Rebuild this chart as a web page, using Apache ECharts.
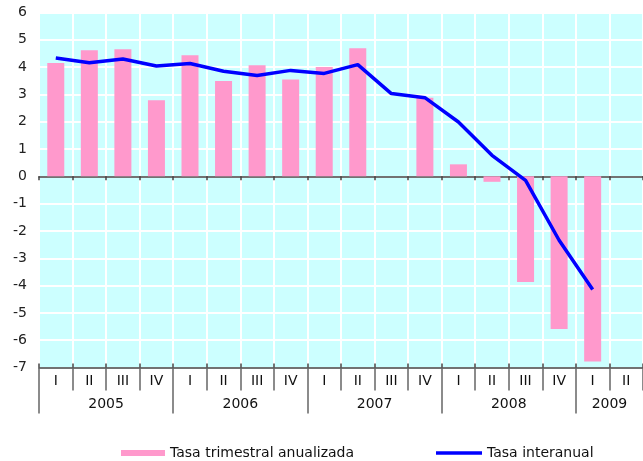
<!DOCTYPE html>
<html>
<head>
<meta charset="utf-8">
<script src="https://cdn.jsdelivr.net/npm/echarts@6/dist/echarts.min.js"></script>
<style>
html,body{margin:0;padding:0;background:#fff;}
#chart{width:643px;height:461px;}
</style>
</head>
<body>
<div id="chart"></div>
<script>
var quarters = ['I','II','III','IV','I','II','III','IV','I','II','III','IV','I','II','III','IV','I','II'];
var years = ['2005','2006','2007','2008','2009'];
var yearStarts = [0, 4, 8, 12, 16];
var yearCenters = [2, 6, 10, 14, 17];
var trimestral = [4.15, 4.62, 4.65, 2.79, 4.43, 3.49, 4.07, 3.55, 4.0, 4.69, null, 2.88, 0.44, -0.2, -3.87, -5.59, -6.78, null];
var interanual = [4.33, 4.16, 4.3, 4.04, 4.13, 3.85, 3.69, 3.88, 3.77, 4.09, 3.03, 2.88, 1.99, 0.77, -0.15, -2.34, -4.14, null];
var yTicks = {min: -7, max: 6, interval: 1};

var FONT = 'DejaVu Sans';
var chart = echarts.init(document.getElementById('chart'), null, {renderer: 'canvas'});
chart.setOption({
  animation: false,
  backgroundColor: '#ffffff',
  textStyle: {fontFamily: FONT},
  grid: {left: 39, top: 12.5, right: -7, bottom: 93.5, show: true, backgroundColor: '#ccffff', borderWidth: 0},
  legend: [
    {left: 116, top: 441, itemWidth: 44, itemHeight: 6, itemGap: 5,
     textStyle: {fontFamily: FONT, fontSize: 14, color: '#111'},
     data: [{name: 'Tasa trimestral anualizada', icon: 'rect'}]},
    {left: 431, top: 441, itemWidth: 46, itemHeight: 3.5,
     textStyle: {fontFamily: FONT, fontSize: 14, color: '#111'},
     itemStyle: {color: '#0000ff'},
     data: [{name: 'Tasa interanual', icon: 'rect'}]}
  ],
  xAxis: [
    {type: 'category', data: quarters, position: 'bottom',
     axisLine: {show: true, onZero: true, lineStyle: {color: '#444', width: 1.5}},
     axisTick: {show: true, interval: 0, length: 4, lineStyle: {color: '#444', width: 1.5}},
     axisLabel: {show: false},
     splitLine: {show: true, interval: 0, lineStyle: {color: '#ffffff', width: 2}}},
    {type: 'category', data: quarters, position: 'bottom',
     axisLine: {show: false, onZero: false},
     axisTick: {show: true, interval: 0, length: 23, lineStyle: {color: '#666', width: 1.5}},
     axisLabel: {show: true, interval: 0, margin: 7, fontFamily: FONT, fontSize: 14, color: '#111'},
     splitLine: {show: false}},
    {type: 'value', min: 0, max: 18, position: 'bottom',
     axisLine: {show: false, onZero: false},
     axisTick: {show: true, customValues: yearStarts, length: 46, lineStyle: {color: '#666', width: 1.5}},
     axisLabel: {show: true, customValues: yearCenters, margin: 30, fontFamily: FONT, fontSize: 14, color: '#111',
       formatter: function (v) { var i = yearCenters.indexOf(v); return i >= 0 ? years[i] : ''; }},
     splitLine: {show: false}},
    {type: 'category', data: quarters, position: 'bottom',
     axisLine: {show: true, onZero: true, lineStyle: {color: '#444', width: 1.5}},
     axisTick: {show: true, inside: true, interval: 0, length: 4, lineStyle: {color: '#444', width: 1.5}},
     axisLabel: {show: false},
     splitLine: {show: false}}
  ],
  yAxis: {
    type: 'value', min: yTicks.min, max: yTicks.max, interval: yTicks.interval,
    axisLine: {show: false}, axisTick: {show: false},
    axisLabel: {margin: 12, fontFamily: FONT, fontSize: 14, color: '#222'},
    splitLine: {show: true, lineStyle: {color: '#ffffff', width: 2}}
  },
  series: [
    {name: 'Tasa trimestral anualizada', type: 'bar', xAxisIndex: 0, data: trimestral,
     barWidth: 17, itemStyle: {color: '#ff99cc'}},
    {name: 'Tasa interanual', type: 'line', xAxisIndex: 0, data: interanual,
     symbol: 'none', lineStyle: {color: '#0000ff', width: 3.5}, itemStyle: {color: '#0000ff'}, z: 5}
  ]
});
</script>
</body>
</html>
